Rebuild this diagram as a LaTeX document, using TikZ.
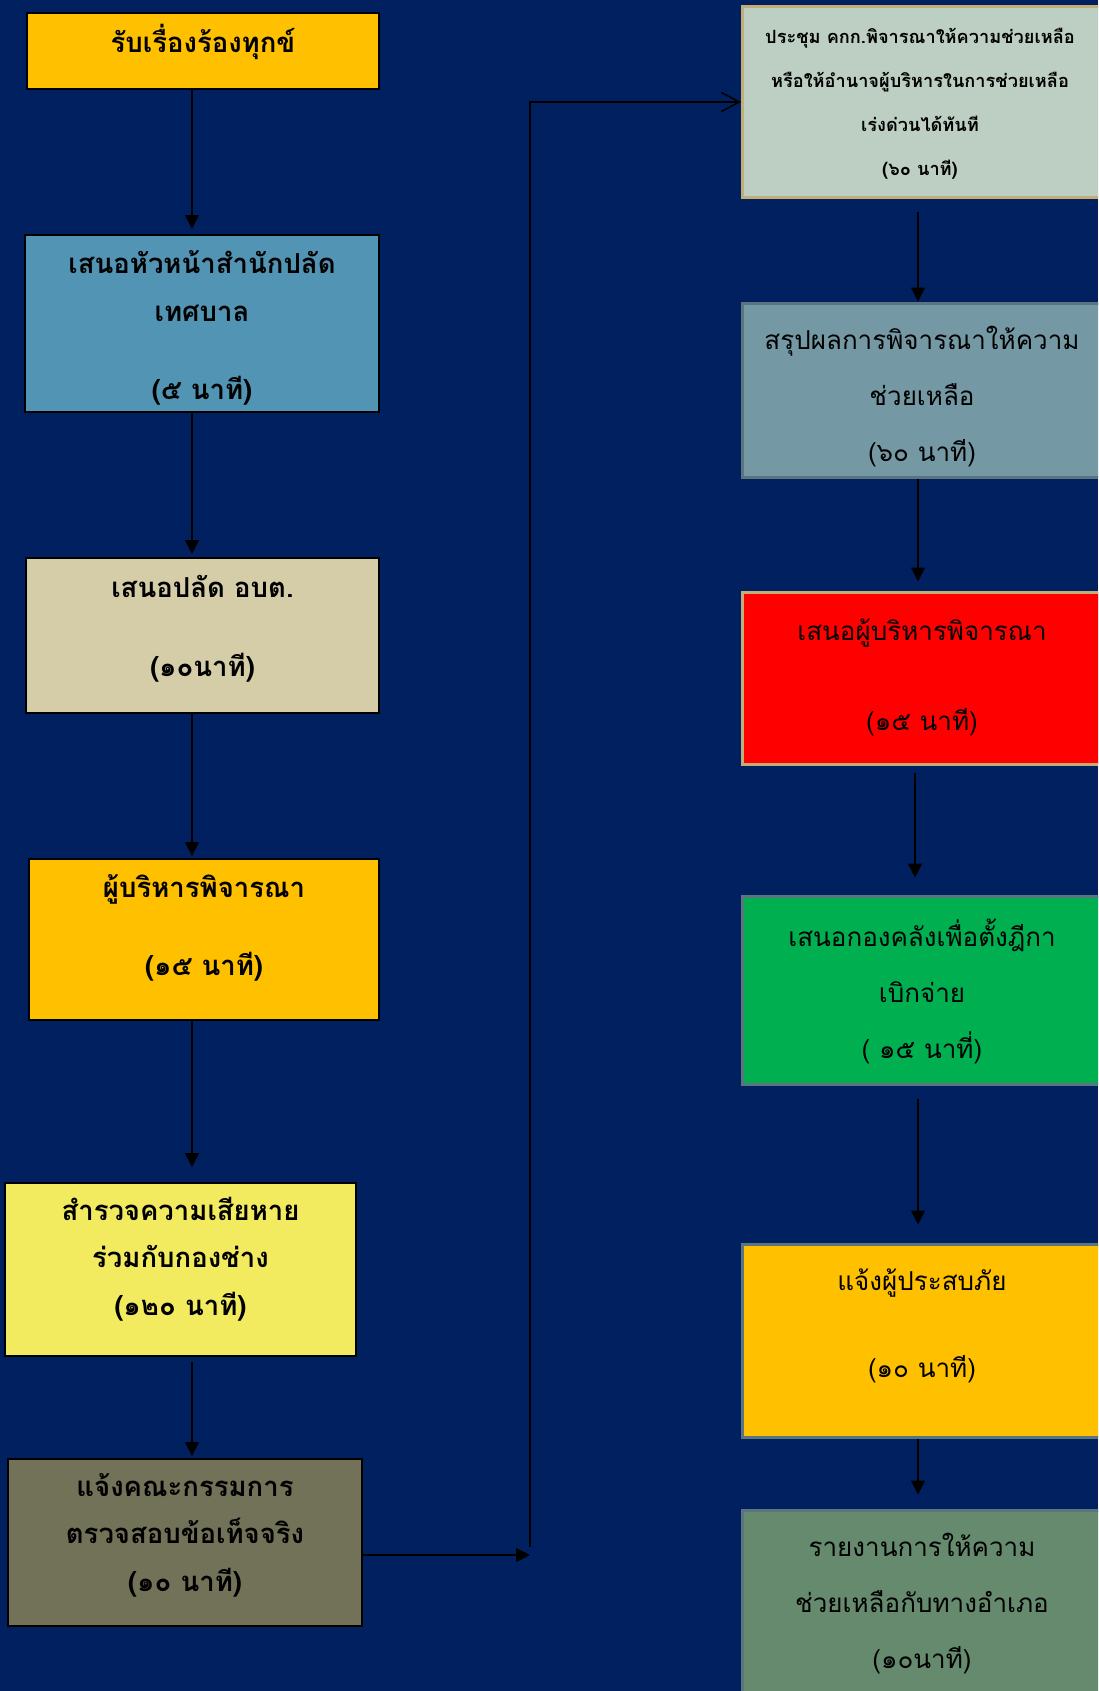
\documentclass[tikz,border=0pt]{standalone}
\usepackage{fontspec}
\usetikzlibrary{arrows.meta, positioning}
\newfontfamily\thaifont[Script=Thai]{Loma}
\definecolor{navy}{HTML}{002060}
\definecolor{gold}{HTML}{FFC000}
\definecolor{steel}{HTML}{5294B4}
\definecolor{sand}{HTML}{D4CDA8}
\definecolor{lemon}{HTML}{F3EB5F}
\definecolor{olive}{HTML}{727259}
\definecolor{sage}{HTML}{BCCFC2}
\definecolor{slate}{HTML}{7499A4}
\definecolor{leaf}{HTML}{00B050}
\definecolor{moss}{HTML}{658A6E}
\definecolor{tan}{HTML}{C4AE75}
\definecolor{rim}{HTML}{5A7480}

\begin{document}
\begin{tikzpicture}[x=1pt, y=-1pt,
    box/.style={rectangle, draw=black, line width=2pt, inner sep=0pt},
    rbox/.style={rectangle, draw=rim, line width=3pt, inner sep=0pt, minimum width=359pt},
    ltext/.style={align=center, text=black, font=\thaifont\bfseries\fontsize{27.5}{47.5}\selectfont},
    rtext/.style={align=center, text=black, font=\thaifont\fontsize{26}{56}\selectfont},
    arr/.style={-{Triangle[width=14pt,length=14pt]}, line width=1.5pt},
]
    \clip (0,0) rectangle (1098,1691);
    \fill[navy] (0,0) rectangle (1098,1691);

    % Left column
    \node[box, fill=gold, minimum width=352pt, minimum height=76pt] (b1) at (203,51) {};
    \node[ltext] (t1) at (203,42) {รับเรื่องร้องทุกข์};
    \node[box, fill=steel, minimum width=354pt, minimum height=177pt] (b2) at (202,323.5) {};
    \node[ltext] (t2) at (202,328) {เสนอหัวหน้าสำนักปลัด\\เทศบาล\\[31pt](๕ นาที)};
    \node[box, fill=sand, minimum width=353pt, minimum height=155pt] (b3) at (202.5,635.5) {};
    \node[ltext] (t3) at (202.5,629) {เสนอปลัด อบต.\\[31pt](๑๐นาที)};
    \node[box, fill=gold, minimum width=350pt, minimum height=161pt] (b4) at (204,939.5) {};
    \node[ltext] (t4) at (204,928) {ผู้บริหารพิจารณา\\[31pt](๑๕ นาที)};
    \node[box, fill=lemon, minimum width=351pt, minimum height=173pt] (b5) at (180.5,1269.5) {};
    \node[ltext] (t5) at (180.5,1259) {สำรวจความเสียหาย\\ร่วมกับกองช่าง\\(๑๒๐ นาที)};
    \node[box, fill=olive, minimum width=354pt, minimum height=167pt] (b6) at (185,1542.5) {};
    \node[ltext] (t6) at (185,1535) {แจ้งคณะกรรมการ\\ตรวจสอบข้อเท็จจริง\\(๑๐ นาที)};

    % Right column
    \node[rbox, draw=tan, fill=sage, minimum height=190pt] (b7) at (922,102) {};
    \node[ltext, font=\thaifont\bfseries\fontsize{18.2}{44}\selectfont] (t7) at (920,104)
        {ประชุม คกก.พิจารณาให้ความช่วยเหลือ\\หรือให้อำนาจผู้บริหารในการช่วยเหลือ\\เร่งด่วนได้ทันที\\(๖๐ นาที)};
    \node[rbox, fill=slate, minimum height=174pt] (b8) at (922,390) {};
    \node[rtext] (t8) at (922,397) {สรุปผลการพิจารณาให้ความ\\ช่วยเหลือ\\(๖๐ นาที)};
    \node[rbox, draw=tan, fill=red, minimum height=172pt] (b9) at (922,678) {};
    \node[rtext] (t9) at (922,677) {เสนอผู้บริหารพิจารณา\\[34pt](๑๕ นาที)};
    \node[rbox, fill=leaf, minimum height=188pt] (b10) at (922,990) {};
    \node[rtext] (t10) at (922,991) {เสนอกองคลังเพื่อตั้งฎีกา\\เบิกจ่าย\\( ๑๕ นาที่)};
    \node[rbox, fill=gold, minimum height=193pt] (b11) at (922,1340.5) {};
    \node[rtext] (t11) at (922,1326) {แจ้งผู้ประสบภัย\\[31pt](๑๐ นาที)};
    \node[rbox, fill=moss, minimum height=188pt] (b12) at (922,1604) {};
    \node[rtext] (t12) at (922,1604) {รายงานการให้ความ\\ช่วยเหลือกับทางอำเภอ\\(๑๐นาที)};

    % Connectors
    \coordinate (lcol) at (192,0);
    \coordinate (rcol) at (918,0);
    \coordinate (turn) at (530,1555);
    \draw[arr, shorten >=5pt] (b1.south -| lcol) -- (b2.north -| lcol);
    \draw[arr, shorten >=3pt] (b2.south -| lcol) -- (b3.north -| lcol);
    \draw[arr, shorten >=2pt] (b3.south -| lcol) -- (b4.north -| lcol);
    \draw[arr, shorten >=15pt] (b4.south -| lcol) -- (b5.north -| lcol);
    \draw[arr, shorten <=5pt, shorten >=2pt] (b5.south -| lcol) -- (b6.north -| lcol);
    \draw[arr] (turn -| b6.east) -- (turn);
    \draw[-{Straight Barb[width=19pt,length=18pt]}, line width=1.5pt]
        ([yshift=8pt]turn) |- (b7.west);
    \draw[arr, shorten <=13pt] (b7.south -| rcol) -- (b8.north -| rcol);
    \draw[arr, shorten >=9pt] (b8.south -| rcol) -- (b9.north -| rcol);
    \draw[arr, shorten <=7pt, shorten >=17pt] ([xshift=-3pt]b9.south -| rcol) -- ([xshift=-3pt]b10.north -| rcol);
    \draw[arr, shorten <=13pt, shorten >=18pt] (b10.south -| rcol) -- (b11.north -| rcol);
    \draw[arr, shorten >=14pt] (b11.south -| rcol) -- (b12.north -| rcol);
\end{tikzpicture}
\end{document}
